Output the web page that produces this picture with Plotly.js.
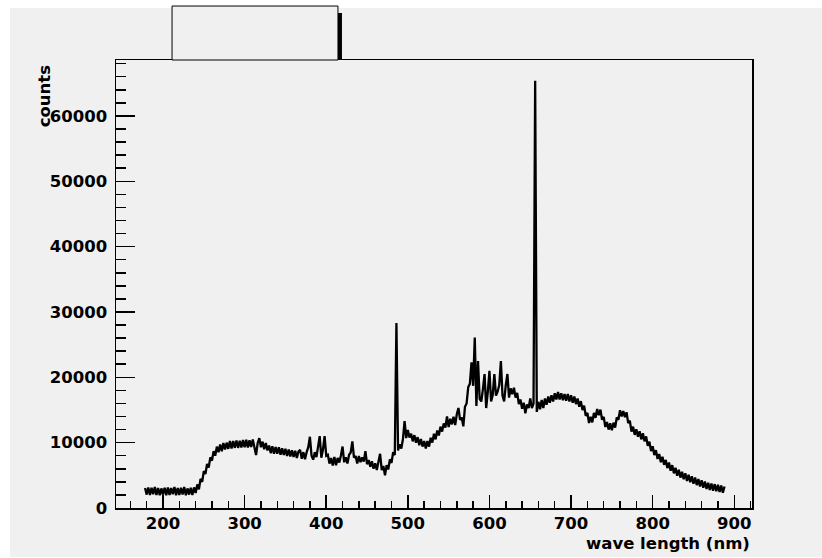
<!DOCTYPE html>
<html>
<head>
<meta charset="utf-8">
<script src="https://cdn.plot.ly/plotly-3.0.1.min.js"></script>
<style>
  html, body { margin: 0; padding: 0; background: #ffffff; }
  #bgpanel { position: absolute; left: 10px; top: 8px; width: 812px; height: 549px; background: #f0f0f0; }
  #chart { position: absolute; left: 0; top: 0; width: 822px; height: 558px; }
</style>
</head>
<body>
<div id="bgpanel"></div>
<div id="chart"></div>
<script>
// Spectrum: bin start (nm), bin width (nm), and counts per bin
const wavelengthStart = 178;
const wavelengthStep = 2;
const counts = [
  3050,2050,3150,2000,3100,2100,3200,2000,3050,1950,
  3000,2050,3100,1950,3150,2000,3050,2100,3200,1950,
  3050,2000,3100,2050,3200,1950,3000,2050,3100,2000,
  3150,2300,3600,2850,4450,4000,5650,5200,6750,6200,
  7750,7250,8700,8000,9400,8550,9700,8700,9950,8950,
  10000,9050,10250,9100,10250,9200,10350,9200,10300,9250,
  10400,9300,10450,9250,10350,9350,10500,9300,8100,9950,
  10700,9300,10150,9000,9950,8800,9550,8400,9450,8300,
  9350,8300,9300,8150,9150,8100,9050,7950,8950,7900,
  8850,7800,8750,7650,8650,8900,7550,8550,7450,8550,
  9300,10900,8000,7400,8550,7800,9400,11000,7700,8950,
  11000,8000,8150,6800,7650,6500,7800,6550,7650,6950,
  8050,9400,7000,7750,6800,8150,8500,10200,7700,7950,
  6800,7950,7000,7750,7100,8700,6700,7350,6300,7150,
  6000,6850,5800,7100,8300,5800,6450,5000,6550,5900,
  7450,6900,8550,8100,28300,8800,9750,9100,10550,13300,
  10700,11950,10800,11350,10200,11150,10000,10850,9600,10550,
  9400,10250,9100,10250,9400,10750,10000,11350,10500,11850,
  11100,12450,11700,12950,12300,14000,12400,13650,12800,13950,
  12700,14350,15300,13500,13850,12500,15500,16000,18500,19000,
  22300,18700,26100,15600,22500,16700,16300,18200,20500,15300,
  17800,21000,16300,17300,20500,17200,17800,18800,22500,17200,
  16300,18800,20500,16900,18300,17400,18400,16900,17600,15900,
  16600,15200,16100,14500,15850,15300,16750,15300,16000,65400,
  14700,16250,15100,16550,15300,16750,15800,17050,16100,17250,
  16300,17550,16600,17750,16600,17550,16500,17450,16400,17450,
  16300,17250,16100,17050,15900,16750,15500,16350,15000,15650,
  14100,14550,13000,13950,13100,14550,13800,15150,14200,15050,
  13500,13950,12400,13150,12000,12950,11900,13050,12300,13850,
  13500,14950,14000,14850,13900,14650,13000,13350,11700,12450,
  11200,12050,10900,11750,10500,11450,10200,10950,9500,10150,
  8700,9450,8100,8850,7500,8250,7000,7850,6600,7350,
  6100,6950,5700,6550,5300,6150,4950,5850,4650,5550,
  4400,5300,4150,5100,3950,4850,3700,4650,3500,4450,
  3300,4250,3100,4050,2900,3850,2750,3750,2650,3650,
  2550,3550,2450,3450,2350,3300
];

const xTickValues = [200, 300, 400, 500, 600, 700, 800, 900];
const yTickValues = [0, 10000, 20000, 30000, 40000, 50000, 60000];
const xTitle = 'wave length (nm)';
const yTitle = 'counts';

const FONT = 'DejaVu Sans, Verdana, sans-serif';
const FSIZE = 16.5;
const GRAY = '#f0f0f0';

const trace = {
  type: 'scatter',
  mode: 'lines',
  x0: wavelengthStart,
  dx: wavelengthStep,
  y: counts,
  line: { color: '#000000', width: 2.3, simplify: false },
  hoverinfo: 'skip',
  showlegend: false
};

const axisCommon = {
  showgrid: false,
  zeroline: false,
  showline: true,
  mirror: true,
  linecolor: '#000000',
  linewidth: 1.5,
  ticks: 'inside',
  tickcolor: '#000000',
  tickwidth: 1.5,
  tickfont: { family: FONT, size: FSIZE, color: '#000000', weight: 'bold' },
  fixedrange: true
};

const layout = {
  width: 822,
  height: 558,
  autosize: false,
  margin: { l: 116, r: 70, t: 60, b: 50, pad: 0 },
  paper_bgcolor: 'rgba(0,0,0,0)',
  plot_bgcolor: 'rgba(0,0,0,0)',
  xaxis: Object.assign({}, axisCommon, {
    range: [142.4, 921.7],
    tickmode: 'array',
    tickvals: xTickValues,
    ticktext: xTickValues.map(String),
    ticklen: 13,
    ticklabelstandoff: 0,
    minor: { dtick: 20, tick0: 0, ticks: 'inside', ticklen: 7, tickwidth: 1.5, tickcolor: '#000000', showgrid: false }
  }),
  yaxis: Object.assign({}, axisCommon, {
    range: [0, 68560],
    tickmode: 'array',
    tickvals: yTickValues,
    ticktext: yTickValues.map(String),
    ticklen: 19,
    ticklabelstandoff: 4,
    minor: { dtick: 2000, tick0: 0, ticks: 'inside', ticklen: 9.5, tickwidth: 1.5, tickcolor: '#000000', showgrid: false }
  }),
  shapes: [
    // statistics box shadow and box above the frame
    { type: 'rect', xref: 'paper', yref: 'paper', x0: 0.349, x1: 0.3553, y0: 1.0, y1: 1.1049,
      fillcolor: '#000000', line: { width: 0 }, layer: 'above' },
    { type: 'rect', xref: 'paper', yref: 'paper', x0: 0.0881, x1: 0.349, y0: 1.0, y1: 1.1205,
      fillcolor: GRAY, line: { color: '#000000', width: 1 }, layer: 'above' }
  ],
  annotations: [
    { text: xTitle, xref: 'paper', yref: 'paper', x: 1.0, y: -0.079, xanchor: 'right', yanchor: 'middle',
      showarrow: false, font: { family: FONT, size: FSIZE, color: '#000000', weight: 'bold' } },
    { text: yTitle, xref: 'paper', yref: 'paper', x: -0.113, y: 0.993, xanchor: 'center', yanchor: 'top',
      textangle: -90, showarrow: false, font: { family: FONT, size: FSIZE, color: '#000000', weight: 'bold' } }
  ]
};

Plotly.newPlot('chart', [trace], layout, { displayModeBar: false, staticPlot: true });
</script>
</body>
</html>
